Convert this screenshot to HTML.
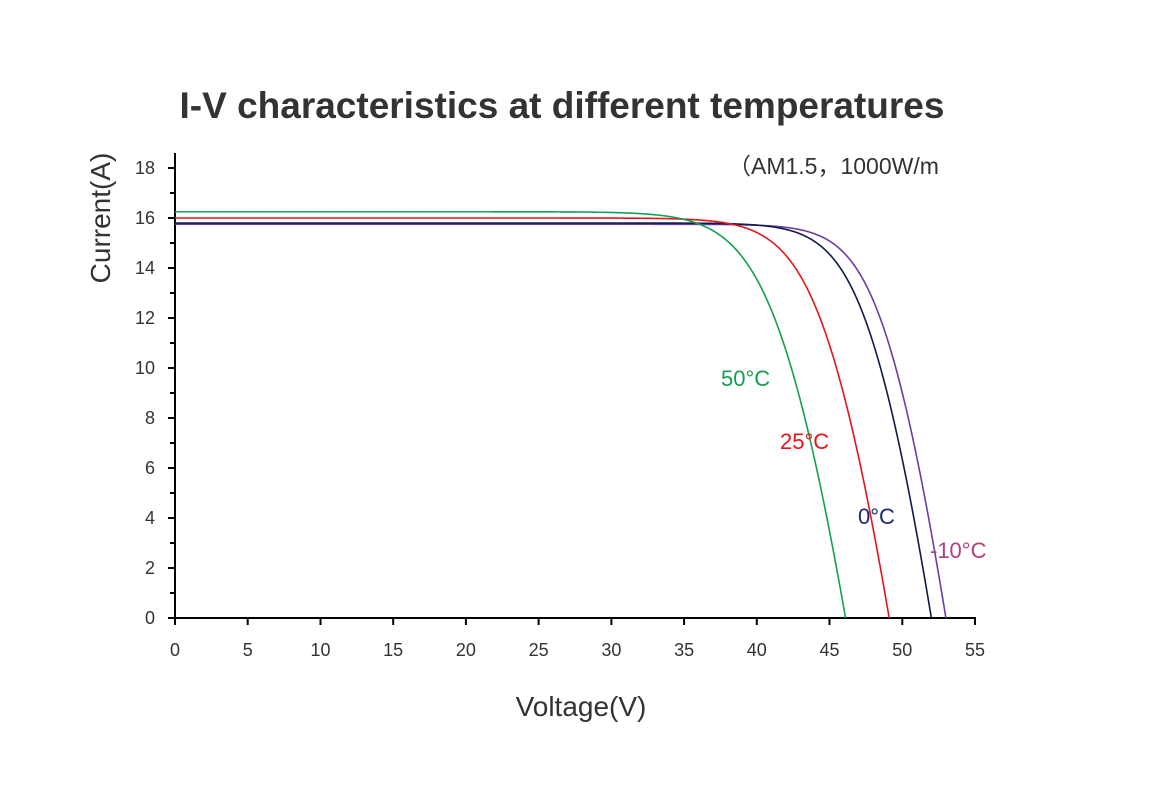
<!DOCTYPE html>
<html><head><meta charset="utf-8"><style>
body{margin:0;background:#fff}
svg text{font-family:"Liberation Sans","Noto Sans CJK SC",sans-serif}
</style></head><body>
<svg width="1160" height="795" viewBox="0 0 1160 795" xmlns="http://www.w3.org/2000/svg">
<rect width="1160" height="795" fill="#fff"/>
<text x="562" y="118" text-anchor="middle" font-size="37" font-weight="bold" fill="#333">I-V characteristics at different temperatures</text>
<text x="728" y="174" font-size="23" fill="#333">（AM1.5，1000W/m</text>
<g stroke="#000" stroke-width="2" fill="none">
<line x1="175" y1="153" x2="175" y2="619"/>
<line x1="174" y1="618" x2="976" y2="618"/>
<path d="M168,168H175M168,218H175M168,268H175M168,318H175M168,368H175M168,418H175M168,468H175M168,518H175M168,568H175M168,618H175
M170,193H175M170,243H175M170,293H175M170,343H175M170,393H175M170,443H175M170,493H175M170,543H175M170,593H175"/>
<path d="M175,618V625M247.7,618V625M320.5,618V625M393.2,618V625M465.9,618V625M538.6,618V625M611.4,618V625M684.1,618V625M756.8,618V625M829.5,618V625M902.3,618V625M975,618V625"/>
</g>
<g font-size="18" fill="#333" text-anchor="end">
<text x="155" y="174">18</text><text x="155" y="224">16</text><text x="155" y="274">14</text><text x="155" y="324">12</text><text x="155" y="374">10</text><text x="155" y="424">8</text><text x="155" y="474">6</text><text x="155" y="524">4</text><text x="155" y="574">2</text><text x="155" y="624">0</text>
</g>
<g font-size="18" fill="#333" text-anchor="middle">
<text x="175" y="656">0</text><text x="247.7" y="656">5</text><text x="320.5" y="656">10</text><text x="393.2" y="656">15</text><text x="465.9" y="656">20</text><text x="538.6" y="656">25</text><text x="611.4" y="656">30</text><text x="684.1" y="656">35</text><text x="756.8" y="656">40</text><text x="829.5" y="656">45</text><text x="902.3" y="656">50</text><text x="975" y="656">55</text>
</g>
<text x="581" y="716" text-anchor="middle" font-size="28" fill="#333">Voltage(V)</text>
<text transform="translate(110,218) rotate(-90)" text-anchor="middle" font-size="28" fill="#333">Current(A)</text>
<g fill="none" stroke-width="1.6" stroke-linejoin="round">
<path id="cp" stroke="#6a3ea1" d=""/>
<path id="cn" stroke="#0f1a4a" d=""/>
<path id="cr" stroke="#e8141c" d=""/>
<path id="cg" stroke="#14a050" d=""/>
</g>
<text x="721" y="386" font-size="22" fill="#14a050">50°C</text>
<text x="780" y="449" font-size="22" fill="#e8141c">25°C</text>
<text x="858" y="524" font-size="22" fill="#1f2a6e">0°C</text>
<text x="930" y="558" font-size="22" fill="#b0417f">-10°C</text>
</svg>
<script>
function curve(Isc,Voc,a){
  var Rs=0.171,I0=Isc/(Math.exp(Voc/a)-1);
  function V(I){return a*Math.log((Isc-I)/I0+1)-I*Rs;}
  var pts=[];
  for(var s=9;s>=0;s-=0.02){var d=Isc*Math.pow(10,-s);var I=Isc-d;var v=V(I);if(v>0)pts.push([v,I]);}
  for(var j=1;j<=60;j++){var I=Isc*(1-j/60);var v=V(I);pts.push([v,I]);}
  pts.sort(function(p,q){return p[0]-q[0];});
  var I00=pts[0][1];
  var d="M175,"+(618-25*I00).toFixed(2);
  for(var i=0;i<pts.length;i++){var x=175+pts[i][0]*800/55,y=618-25*pts[i][1];d+=" L"+x.toFixed(2)+","+y.toFixed(2);}
  return d;
}
document.getElementById("cg").setAttribute("d",curve(16.25,46.1,2.11));
document.getElementById("cr").setAttribute("d",curve(16.0,49.1,1.95));
document.getElementById("cn").setAttribute("d",curve(15.8,52.0,1.78));
document.getElementById("cp").setAttribute("d",curve(15.75,53.0,1.72));
</script>
</body></html>
